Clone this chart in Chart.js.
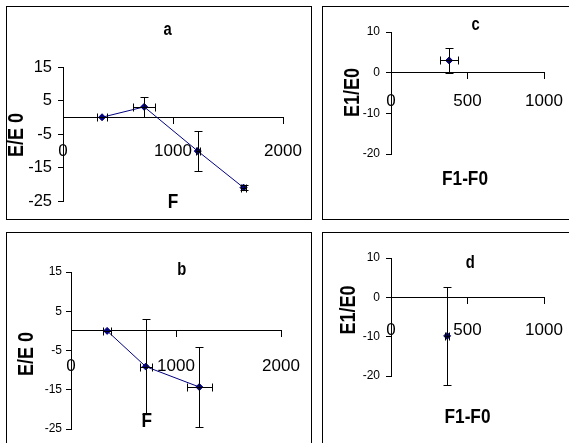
<!DOCTYPE html>
<html><head><meta charset="utf-8">
<script src="https://cdn.jsdelivr.net/npm/chart.js@4.4.1/dist/chart.umd.min.js"></script>
<style>
html,body{margin:0;padding:0;background:#fff;width:569px;height:443px;overflow:hidden;position:relative}
.box{position:absolute;border:1px solid #000;box-sizing:border-box}
canvas.full{position:absolute;left:0;top:0}
</style></head><body>
<div class="box" style="left:6px;top:6px;width:306px;height:214px"></div>
<div class="box" style="left:322px;top:6px;width:260px;height:214px"></div>
<div class="box" style="left:6px;top:232px;width:306px;height:230px"></div>
<div class="box" style="left:322px;top:232px;width:260px;height:230px"></div>
<canvas id="ca" class="full" width="700" height="500"></canvas>
<canvas id="cb" class="full" width="700" height="500"></canvas>
<canvas id="cc" class="full" width="700" height="500"></canvas>
<canvas id="cd" class="full" width="700" height="500"></canvas>
<script>
// ---- data ----
const panelNames = ['a', 'b', 'c', 'd'];
const aF = [355, 738, 1225, 1641];
const aE = [0, 3.1, -10.1, -21];
const aFerr = [44, 100, 20, 25];
const aEerr = [0, 3, 6, 0.8];
const bF = [344, 712, 1222];
const bE = [0, -9.1, -14.3];
const bFerr = [37, 55, 122];
const bEerr = [0, 12.1, 10.1];
const cF = [380];
const cE = [3.0];
const cFerr = [60];
const cEerr = [3];
const dF = [367];
const dE = [-9.8];
const dFerr = [12];
const dEerr = [12.5];
const abXTicks = [0, 1000, 2000];
const abYTicks = [-25, -15, -5, 5, 15];
const cdXTicks = [0, 500, 1000];
const cdYTicks = [-20, -10, 0, 10];
const xTitleAB = 'F', yTitleAB = 'E/E 0';
const xTitleCD = 'F1-F0', yTitleCD = 'E1/E0';

// ---- rendering ----
const REG = '"Liberation Sans", Arial, sans-serif';
const NAVY = '#000080';
const YAXIS_W = 50;
const CW = 700, CH = 500;

const errorBars = {
  id: 'errorBars',
  afterDatasetsDraw(chart, args, opts) {
    const {ctx} = chart; const x = chart.scales.x, y = chart.scales.y;
    const ds = chart.data.datasets[0];
    const cap = 4;
    const r = v => Math.round(v) + 0.5;
    ctx.save(); ctx.strokeStyle = '#000'; ctx.lineWidth = 1;
    const seg = (x1, y1, x2, y2) => { ctx.beginPath(); ctx.moveTo(x1, y1); ctx.lineTo(x2, y2); ctx.stroke(); };
    ds.data.forEach((p, i) => {
      const px = r(x.getPixelForValue(p.x)), py = r(y.getPixelForValue(p.y));
      const ex = opts.xErr[i], ey = opts.yErr[i];
      if (ey) {
        const y1 = r(y.getPixelForValue(p.y + ey)), y2 = r(y.getPixelForValue(p.y - ey));
        seg(px, y1, px, y2); seg(px - cap, y1, px + cap, y1); seg(px - cap, y2, px + cap, y2);
      }
      if (ex) {
        const x1 = r(x.getPixelForValue(p.x - ex)), x2 = r(x.getPixelForValue(p.x + ex));
        seg(x1, py, x2, py); seg(x1, py - cap, x1, py + cap); seg(x2, py - cap, x2, py + cap);
      }
    });
    ctx.restore();
  }
};

// axis titles and panel letters, drawn condensed like the original
const panelText = {
  id: 'panelText',
  afterDraw(chart, args, opts) {
    const {ctx} = chart;
    opts.items.forEach(t => {
      ctx.save();
      ctx.font = t.font; ctx.fillStyle = '#000';
      ctx.textAlign = 'center'; ctx.textBaseline = 'alphabetic';
      ctx.translate(t.x, t.y);
      if (t.rot) ctx.rotate(-Math.PI / 2);
      ctx.scale(0.82, 1);
      ctx.fillText(t.text, 0, 0);
      ctx.restore();
    });
  }
};

function makeChart(id, c) {
  return new Chart(document.getElementById(id), {
    type: 'scatter',
    data: {
      datasets: [{
        data: c.F.map((f, i) => ({x: f, y: c.E[i]})),
        showLine: c.line,
        borderColor: NAVY, backgroundColor: NAVY, borderWidth: 1,
        pointStyle: 'rectRot', pointRadius: 3.5, pointBorderWidth: 1, pointBorderColor: NAVY,
        pointBackgroundColor: NAVY
      }]
    },
    options: {
      responsive: false, animation: false, events: [],
      layout: {padding: {left: c.area[0] - YAXIS_W, top: c.area[1], right: CW - c.area[2], bottom: CH - c.area[3]}},
      plugins: {
        legend: {display: false}, tooltip: {enabled: false},
        errorBars: {xErr: c.Ferr, yErr: c.Eerr},
        panelText: {items: c.texts}
      },
      scales: {
        x: {
          type: 'linear', position: {y: 0}, min: c.xTicks[0], max: c.xTicks[c.xTicks.length - 1],
          afterFit: s => { s.height = 0; },
          afterBuildTicks: s => { s.ticks = c.xTicks.map(v => ({value: v})); },
          grid: {drawOnChartArea: false, color: '#000', tickLength: 6, tickWidth: 1},
          border: {color: '#000', width: 1},
          ticks: {color: '#000', font: {family: REG, size: 17}, padding: c.xPad, maxRotation: 0, autoSkip: false,
                  callback: v => String(v)}
        },
        y: {
          type: 'linear', position: 'left', min: c.yTicks[0], max: c.yTicks[c.yTicks.length - 1],
          afterFit: s => { s.width = YAXIS_W; },
          afterBuildTicks: s => { s.ticks = c.yTicks.map(v => ({value: v})); },
          grid: {drawOnChartArea: false, color: '#000', tickLength: 5, tickWidth: 1},
          border: {color: '#000', width: 1},
          ticks: {color: '#000', font: c.yFont, padding: c.yPad, autoSkip: false, callback: v => String(v)}
        }
      }
    },
    plugins: [errorBars, panelText]
  });
}

const TFONT = 'bold 18px ' + REG;
const AFONT = 'bold 22px ' + REG;
const XFONT = 'bold 21px ' + REG;

makeChart('ca', {F: aF, E: aE, Ferr: aFerr, Eerr: aEerr, line: true, area: [63, 67, 283, 201],
  xTicks: abXTicks, yTicks: abYTicks, xPad: 18, yPad: 6, yFont: {family: REG, size: 16.5},
  texts: [{text: panelNames[0], x: 167.5, y: 35, font: TFONT},
          {text: yTitleAB, x: 23, y: 135, rot: true, font: AFONT},
          {text: xTitleAB, x: 173, y: 208, font: XFONT}]});
makeChart('cb', {F: bF, E: bE, Ferr: bFerr, Eerr: bEerr, line: true, area: [71, 272, 281, 429],
  xTicks: abXTicks, yTicks: abYTicks, xPad: 19, yPad: 4, yFont: {family: REG, size: 12},
  texts: [{text: panelNames[1], x: 181.7, y: 275, font: TFONT},
          {text: yTitleAB, x: 32.7, y: 354, rot: true, font: AFONT},
          {text: xTitleAB, x: 146.7, y: 426.7, font: XFONT}]});
makeChart('cc', {F: cF, E: cE, Ferr: cFerr, Eerr: cEerr, line: false, area: [391, 32, 544, 154],
  xTicks: cdXTicks, yTicks: cdYTicks, xPad: 12, yPad: 6, yFont: {family: REG, size: 12},
  texts: [{text: panelNames[2], x: 475.5, y: 30, font: TFONT},
          {text: yTitleCD, x: 359, y: 92.5, rot: true, font: AFONT},
          {text: xTitleCD, x: 465, y: 185, font: XFONT}]});
makeChart('cd', {F: dF, E: dE, Ferr: dFerr, Eerr: dEerr, line: false, area: [391, 258, 544, 376],
  xTicks: cdXTicks, yTicks: cdYTicks, xPad: 16.5, yPad: 6, yFont: {family: REG, size: 12},
  texts: [{text: panelNames[3], x: 470.3, y: 268.3, font: TFONT},
          {text: yTitleCD, x: 355, y: 310, rot: true, font: AFONT},
          {text: xTitleCD, x: 467.5, y: 423, font: XFONT}]});
</script>
</body></html>
